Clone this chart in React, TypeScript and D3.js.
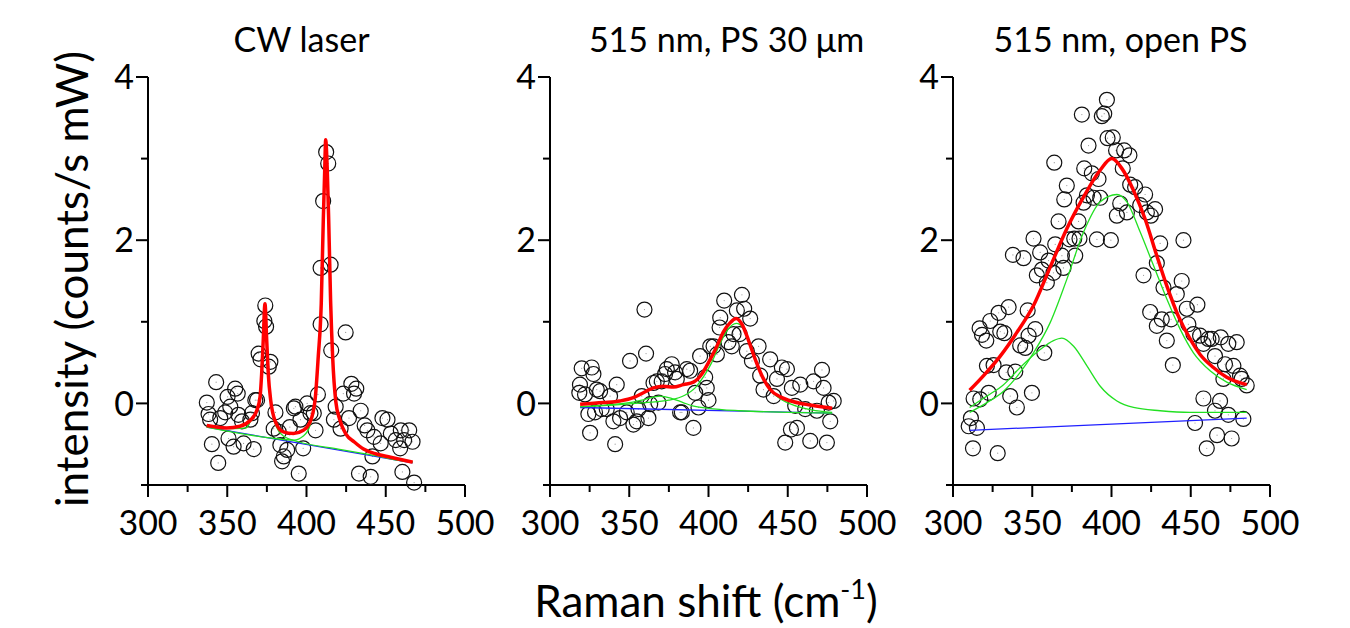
import React from "react";
import * as d3 from "d3";

type Pt = [number, number];

// ---- panel titles, axis ticks ----
const panelTitles = ["CW laser", "515 nm, PS 30 \u03bcm", "515 nm, open PS"];
const xTickValues = [300, 350, 400, 450, 500];
const xTickLabels = ["300", "350", "400", "450", "500"];
const xMinorTicks = [325, 375, 425, 475];
const yTickValues = [0, 2, 4];
const yTickLabels = ["0", "2", "4"];
const yMinorTicks = [-1, 1, 3];

// ---- CW laser ----
const cwPoints: Pt[] = [
  [337.1, 0.01], [338.2, -0.13], [339.2, -0.2], [340.3, -0.5], [343, 0.26], [344.3, -0.73],
  [345.6, -0.18], [348.7, -0.11], [350.2, 0.08], [351.9, -0.04], [350.8, -0.43], [355, 0.18],
  [356.6, 0.12], [354, -0.53], [357, -0.14], [359.3, -0.22], [360.3, -0.49], [364.6, -0.2],
  [366.7, -0.56], [365.6, -0.12], [367.7, 0.04], [368.8, 0.04], [369.8, 0.61], [371, 0.54],
  [376.2, 0.45], [377.2, 0.51], [373.4, 1.01], [374.5, 0.94], [374, 1.2], [380.4, -0.11],
  [379.3, -0.31], [382.5, -0.35], [383.5, -0.51], [384.6, -0.71], [385.7, -0.65], [387.8, -0.57],
  [389.5, -0.29], [392, -0.06], [393, -0.04], [395.1, -0.86], [397.9, -0.55], [396.2, -0.2],
  [400.4, 0], [402.5, -0.12], [405.7, -0.33], [404.6, -0.12], [407.2, 0.11], [408.9, 0.97],
  [408.9, 1.66], [410.5, 2.48], [412.4, 3.08], [413.7, 2.94], [415.2, 1.7], [415.6, 0.65],
  [418.4, -0.04], [417.3, -0.2], [421.5, -0.31], [423.2, 0.12], [424.7, 0.87], [426.8, -0.18],
  [428.3, 0.24], [430, 0.12], [431.4, 0.18], [434.2, -0.09], [433.1, -0.86], [436.7, -0.27],
  [440.5, -0.9], [441.6, -0.65], [438.4, -0.33], [442.6, -0.41], [446.8, -0.49], [447.9, -0.18],
  [451.1, -0.2], [453.2, -0.37], [456.3, -0.45], [459.5, -0.33], [459.1, -0.55], [461.6, -0.45],
  [464.8, -0.33], [466.9, -0.47], [460.5, -0.84], [467.9, -0.97],
];
const cwFit: Pt[] = [
  [337, -0.27], [349.6, -0.3], [358, -0.28], [364.4, -0.21], [368.6, -0.09], [370.7, 0.08],
  [371.7, 0.36], [372.7, 0.77], [373.8, 1.22], [374.9, 0.77], [375.9, 0.36], [377.4, 0.04],
  [380.1, -0.21], [385.4, -0.35], [391.7, -0.37], [398, -0.33], [402.2, -0.23], [405.4, 0.04],
  [407.4, 0.57], [409.3, 1.22], [410.6, 2.25], [411.5, 2.86], [412.1, 3.23], [413.1, 2.86],
  [414, 2.25], [415.2, 1.26], [416.5, 0.57], [418.5, 0.02], [421, -0.2], [425, -0.38],
  [430, -0.47], [436, -0.56], [444, -0.62], [453, -0.66], [467, -0.72],
];
const cwPeak1: Pt[] = [
  [337, -0.28], [355, -0.31], [362, -0.3], [364.4, -0.23], [368.6, -0.1], [370.7, 0.07],
  [371.7, 0.35], [372.7, 0.76], [373.8, 1.2], [374.9, 0.76], [375.9, 0.35], [377.4, 0.02],
  [380.1, -0.24], [385.4, -0.4], [395, -0.47], [420, -0.56], [467, -0.72],
];
const cwPeak2: Pt[] = [
  [337, -0.29], [380, -0.43], [392, -0.45], [398, -0.4], [402.2, -0.27], [405.4, 0.02],
  [407.4, 0.55], [409.3, 1.2], [410.6, 2.23], [411.5, 2.84], [412.1, 3.2], [413.1, 2.84],
  [414, 2.23], [415.2, 1.24], [416.5, 0.55], [418.5, 0.0], [421, -0.21], [425, -0.39],
  [430, -0.48], [440, -0.6], [467, -0.72],
];
const cwBase: Pt[] = [[337, -0.29], [467, -0.73]];

// ---- 515 nm, PS 30 um ----
const psPoints: Pt[] = [
  [320, 0.43], [326.3, 0.44], [327.4, 0.36], [318.9, 0.23], [318.5, 0.13], [322.1, 0.11],
  [331.6, 0.15], [329.5, 0.17], [324.2, -0.13], [325.3, -0.36], [328.4, -0.11], [332.6, -0.07],
  [335.8, -0.07], [337.9, 0.09], [342.1, 0.23], [341.1, -0.5], [340, -0.22], [344.2, -0.18],
  [348.4, -0.11], [350.5, 0.52], [352.6, -0.26], [354.7, -0.22], [355.8, -0.07], [357.9, 0.09],
  [359.6, 1.15], [360.6, 0.61], [362.1, -0.18], [363.2, -0.01], [365.3, 0.25], [367.4, 0.27],
  [368.4, 0.01], [370.5, 0.27], [372.6, 0.36], [373.7, 0.42], [376.8, 0.48], [378.9, 0.38],
  [380, 0.3], [382.1, -0.11], [383.2, -0.11], [386.3, 0.42], [388.4, 0.4], [390.5, -0.3],
  [391.6, 0.13], [393.7, -0.05], [394.7, 0.58], [397.9, 0.32], [398.9, 0.19], [400, 0.04],
  [401.1, 0.7], [405.3, 0.6], [403.2, 0.7], [407, 0.93], [407.4, 1.05], [409.9, 1.26],
  [412.6, 0.75], [414.7, 0.7], [415.8, 0.85], [417.9, 1.14], [419.6, 0.85], [421.1, 1.33],
  [422.5, 1.16], [426.3, 1.04], [424.2, 0.64], [427.4, 0.52], [431.6, 0.7], [432.6, 0.34],
  [434.7, 0.17], [438.9, 0.54], [441.1, 0.09], [443.2, 0.3], [446.3, 0.44], [449.5, 0.42],
  [452.6, 0.19], [454.7, -0.03], [452, -0.32], [455.8, -0.3], [448.4, -0.48], [457.9, 0.23],
  [461, -0.07], [464.2, -0.46], [466.3, 0.27], [468.4, -0.09], [471.6, 0.41], [472.6, 0.19],
  [474.7, -0.48], [475.8, 0.01], [476.8, -0.22], [479, 0.03],
];
const psFit: Pt[] = [
  [319, -0.01], [333.7, 0.01], [344.2, 0.03], [352.6, 0.07], [358.9, 0.13], [365.3, 0.19],
  [371.6, 0.21], [377.9, 0.2], [384.2, 0.23], [390.5, 0.26], [395.8, 0.36], [400, 0.5],
  [405.3, 0.7], [409.5, 0.88], [413.7, 0.99], [417.5, 1.04], [421.1, 0.97], [425.3, 0.77],
  [429.5, 0.54], [433.7, 0.34], [438.9, 0.17], [445.3, 0.08], [453.7, 0.02], [464.2, -0.02],
  [478, -0.06],
];
const psPeak1: Pt[] = [
  [319, -0.04], [335, -0.02], [350, 0.01], [360, 0.05], [369.5, 0.09], [377, 0.06],
  [384, 0.01], [390, -0.03], [400, -0.06], [420, -0.09], [450, -0.11], [478, -0.12],
];
const psPeak2: Pt[] = [
  [319, -0.04], [340, -0.02], [360, 0.01], [375, 0.04], [385, 0.1], [392, 0.2],
  [397, 0.33], [402, 0.5], [407, 0.72], [412, 0.9], [417.5, 0.98], [422, 0.92],
  [426, 0.75], [430, 0.53], [434, 0.33], [439, 0.16], [445, 0.06], [455, -0.03],
  [465, -0.08], [478, -0.11],
];
const psBase: Pt[] = [[319, -0.05], [478, -0.12]];

// ---- 515 nm, open PS ----
const openPoints: Pt[] = [
  [309.9, -0.28], [311.3, -0.18], [315.1, -0.3], [312.6, -0.55], [313, 0.06], [317.2, 0.05],
  [322.5, 0.13], [328.2, -0.61], [316.8, 0.92], [318.3, 0.84], [321, 0.77], [321.4, 0.46],
  [325.6, 0.47], [323.5, 1.01], [328.8, 1.11], [329.8, 0.88], [332.4, 0.86], [335.1, 1.18],
  [333.6, 0.38], [336.1, 0.09], [339.3, 0.39], [340.3, -0.05], [337.8, 1.82], [344.5, 1.78],
  [342.4, 0.71], [345.6, 0.68], [347.1, 1.14], [347.7, 0.83], [351.9, 0.91], [349.8, 0.13],
  [350.8, 2.02], [352.9, 1.57], [355, 1.85], [356.1, 1.64], [359.2, 1.48], [360.3, 1.75],
  [357.6, 0.62], [363.4, 1.6], [363.9, 2.95], [364.5, 1.95], [366.6, 2.23], [369.7, 1.66],
  [368.7, 1.81], [370.2, 2.5], [371.8, 2.67], [373.5, 2.01], [377.1, 1.81], [376.5, 2.02],
  [379.2, 2.23], [379.8, 2.02], [381.3, 3.54], [382.4, 2.46], [382.8, 2.88], [384.5, 2.55],
  [385.5, 3.16], [387.6, 2.82], [388.7, 2.52], [390.8, 2.01], [391.8, 2.75], [392.9, 2.52],
  [393.9, 3.52], [395.4, 3.55], [397.1, 3.72], [397.5, 3.25], [399.6, 2.0], [400.8, 3.26],
  [402.9, 3.1], [403.4, 2.3], [405.5, 2.45], [407.1, 2.88], [408, 3.1], [409.7, 2.34],
  [411.3, 3.04], [411.8, 2.68], [414.9, 2.65], [418.1, 2.43], [421.2, 2.56], [422.3, 2.34],
  [424.8, 2.3], [427.5, 2.38], [430.7, 1.96], [428.6, 1.72], [420.2, 1.57], [424.4, 1.12],
  [428.6, 0.95], [431.7, 1.03], [434.9, 0.77], [432.8, 1.42], [438.7, 0.47], [441.2, 1.34],
  [444.3, 1.5], [445.4, 2.0], [437.6, 1.03], [447.5, 1.16], [448.5, 0.97], [451.7, 0.85],
  [454.2, 1.21], [455.9, 0.83], [458, 0.73], [461.1, 0.79], [463.2, 0.79], [465.3, 0.58],
  [468.9, 0.81], [471.6, 0.48], [470.6, 0.3], [473.7, 0.73], [479, 0.75], [476.9, 0.46],
  [481.1, 0.34], [482.1, 0.3], [485.3, 0.22], [458, 0.06], [468.5, 0.03], [465.3, -0.09],
  [473.7, -0.14], [483.2, -0.19], [452.7, -0.24], [466.6, -0.39], [460.1, -0.55], [475.8, -0.43],
];
const openFit: Pt[] = [
  [310.5, 0.16], [319.3, 0.34], [329.8, 0.58], [340.3, 0.87], [350.8, 1.2], [361.3, 1.67],
  [371.8, 2.14], [382.4, 2.53], [392.9, 2.86], [400.2, 3.0], [406.5, 2.88], [413.9, 2.61],
  [421.2, 2.26], [428.6, 1.81], [434.9, 1.44], [442.2, 1.07], [449.6, 0.79], [455.9, 0.6],
  [464.3, 0.44], [472.7, 0.32], [485.3, 0.23],
];
const openPeak1: Pt[] = [
  [310.5, -0.05], [321.4, 0.09], [331.9, 0.23], [342.4, 0.44], [355, 0.66], [363.4, 0.77],
  [368.7, 0.8], [376.1, 0.7], [384.5, 0.46], [392.9, 0.21], [403.4, 0.03], [413.9, -0.05],
  [430.7, -0.09], [449.6, -0.11], [485.3, -0.11],
];
const openPeak2: Pt[] = [
  [310.5, -0.11], [321.4, 0.01], [331.9, 0.15], [342.4, 0.38], [350.8, 0.62], [361.3, 0.99],
  [371.8, 1.52], [382.4, 2.1], [392.9, 2.47], [403.4, 2.56], [409.7, 2.47], [418.1, 2.1],
  [426.5, 1.69], [434.9, 1.28], [443.3, 0.91], [451.7, 0.62], [462.2, 0.4], [472.7, 0.26],
  [485.3, 0.17],
];
const openBase: Pt[] = [[310.5, -0.33], [485.3, -0.18]];

const panels = [
  { points: cwPoints, fit: cwFit, peaks: [cwPeak1, cwPeak2], base: cwBase },
  { points: psPoints, fit: psFit, peaks: [psPeak1, psPeak2], base: psBase },
  { points: openPoints, fit: openFit, peaks: [openPeak1, openPeak2], base: openBase },
];

const font = "Lato, 'Open Sans', sans-serif";

const Panel = (props) => {
  const { left, top, width, height, title, data } = props;
  const x = d3.scaleLinear().domain([300, 500]).range([left, left + width]);
  const y = d3.scaleLinear().domain([-1, 4]).range([top + height, top]);
  const line = d3
    .line<Pt>()
    .x((d) => x(d[0]))
    .y((d) => y(d[1]))
    .curve(d3.curveMonotoneX);
  const bottom = top + height;

  return (
    <g>
      <text
        x={left + width / 2 + props.titleShift}
        y={top - 25}
        textAnchor="middle"
        fontSize={34}
        fontFamily={font}
      >
        {title}
      </text>
      {/* axes */}
      <line x1={left} y1={top} x2={left} y2={bottom} stroke="#000" strokeWidth={2} />
      <line x1={left} y1={bottom} x2={left + width} y2={bottom} stroke="#000" strokeWidth={2} />
      {xTickValues.map((t, i) => (
        <g key={"xt" + i}>
          <line x1={x(t)} y1={bottom} x2={x(t)} y2={bottom + 12} stroke="#000" strokeWidth={2} />
          <text x={x(t)} y={bottom + 50} textAnchor="middle" fontSize={34} fontFamily={font}>
            {xTickLabels[i]}
          </text>
        </g>
      ))}
      {xMinorTicks.map((t, i) => (
        <line key={"xm" + i} x1={x(t)} y1={bottom} x2={x(t)} y2={bottom + 7} stroke="#000" strokeWidth={2} />
      ))}
      {yTickValues.map((t, i) => (
        <g key={"yt" + i}>
          <line x1={left - 12} y1={y(t)} x2={left} y2={y(t)} stroke="#000" strokeWidth={2} />
          <text x={left - 14} y={y(t)} dy="0.36em" textAnchor="end" fontSize={34} fontFamily={font}>
            {yTickLabels[i]}
          </text>
        </g>
      ))}
      {yMinorTicks.map((t, i) => (
        <line key={"ym" + i} x1={left - 7} y1={y(t)} x2={left} y2={y(t)} stroke="#000" strokeWidth={2} />
      ))}
      {/* data */}
      {data.points.map((d, i) => (
        <g key={"p" + i}>
          <circle cx={x(d[0])} cy={y(d[1])} r={7.5} fill="none" stroke="#111" strokeWidth={1.2} />
          <circle cx={x(d[0])} cy={y(d[1])} r={0.6} fill="#999" />
        </g>
      ))}
      <path d={line(data.base)} fill="none" stroke="#2020ff" strokeWidth={1.3} />
      {data.peaks.map((p, i) => (
        <path key={"g" + i} d={line(p)} fill="none" stroke="#22e022" strokeWidth={1.3} />
      ))}
      <path d={line(data.fit)} fill="none" stroke="#ff0000" strokeWidth={3.5} strokeLinejoin="round" />
    </g>
  );
};

export default function App() {
  const lefts = [148, 550, 953];
  const titleShifts = [-5, 18, 9];
  const top = 77;
  const width = 317;
  const height = 408;

  return (
    <svg width={1350} height={628} style={{ position: "absolute", left: 0, top: 0, background: "#fff" }}>
      {panels.map((p, i) => (
        <Panel
          key={i}
          left={lefts[i]}
          top={top}
          width={width}
          height={height}
          title={panelTitles[i]}
          titleShift={titleShifts[i]}
          data={p}
        />
      ))}
      <text
        transform="translate(88,279) rotate(-90)"
        textAnchor="middle"
        fontSize={44}
        fontFamily={font}
      >
        intensity (counts/s mW)
      </text>
      <text x={706} y={617} textAnchor="middle" fontSize={44} fontFamily={font}>
        Raman shift (cm
        <tspan fontSize={27} dy={-18}>-1</tspan>
        <tspan dy={18}>)</tspan>
      </text>
    </svg>
  );
}
